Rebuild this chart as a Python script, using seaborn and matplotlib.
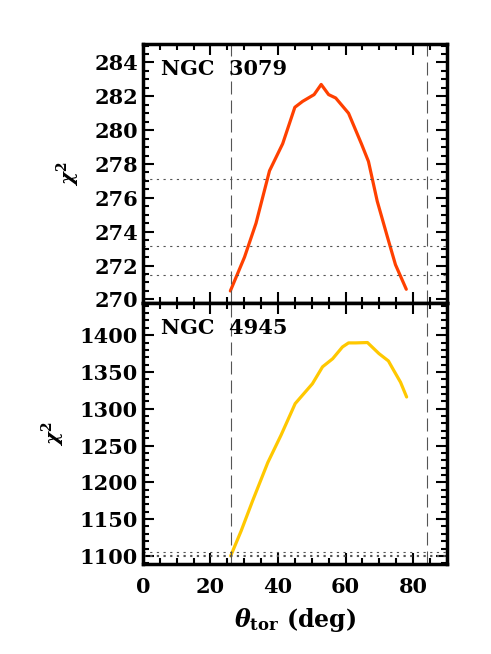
import numpy as np
import pandas as pd
import seaborn as sns
import matplotlib.pyplot as plt
from matplotlib.ticker import MultipleLocator

# NGC 3079 chi^2 curve
theta_3079 = [25.9, 30.1, 33.5, 37.5, 41.4, 45.0, 47.3, 50.7, 52.8, 55.0,
              57.1, 60.9, 64.7, 66.8, 69.4, 72.4, 74.8, 78.0]
chi2_3079 = [270.5, 272.5, 274.5, 277.6, 279.2, 281.35, 281.7, 282.1, 282.7, 282.1,
             281.9, 281.0, 279.2, 278.15, 275.8, 273.7, 272.05, 270.6]
levels_3079 = [271.45, 273.15, 277.1]

# NGC 4945 chi^2 curve
theta_4945 = [26.0, 29.1, 32.5, 37.0, 40.9, 45.1, 50.2, 53.2, 56.2, 59.1,
              60.9, 63.0, 66.5, 69.9, 72.7, 74.3, 76.3, 78.1]
chi2_4945 = [1100, 1134, 1175, 1227, 1264, 1307, 1334, 1357, 1368, 1384,
             1389.5, 1389.5, 1390, 1375, 1365, 1352, 1336, 1316]
levels_4945 = [1100.0, 1101.7, 1105.6]

theta_range = [26, 84]

sns.set_style('ticks')
plt.rcParams['font.family'] = ['DejaVu Serif']
plt.rcParams['font.weight'] = 'bold'
plt.rcParams['mathtext.fontset'] = 'dejavuserif'
plt.rcParams.update({'text.color': 'black', 'axes.labelcolor': 'black',
                     'xtick.color': 'black', 'ytick.color': 'black',
                     'axes.edgecolor': 'black'})

fig = plt.figure(figsize=(4.91, 6.54), dpi=100)
ax1 = fig.add_axes([0.291, 0.537, 0.619, 0.396])
ax2 = fig.add_axes([0.291, 0.1376, 0.619, 0.3994])

df1 = pd.DataFrame({'theta': theta_3079, 'chi2': chi2_3079})
df2 = pd.DataFrame({'theta': theta_4945, 'chi2': chi2_4945})

sns.lineplot(x='theta', y='chi2', data=df1, ax=ax1, color='#ff4000', lw=2.3)
sns.lineplot(x='theta', y='chi2', data=df2, ax=ax2, color='#ffc800', lw=2.3)

for ax, levels in [(ax1, levels_3079), (ax2, levels_4945)]:
    for t in theta_range:
        ax.axvline(t, color='#555555', lw=0.8, dashes=(11.7, 5.4))
    for lv in levels:
        ax.axhline(lv, color='#555555', lw=0.8, dashes=(2, 4))
    ax.set_xlim(0, 90)
    ax.xaxis.set_major_locator(MultipleLocator(20))
    ax.xaxis.set_minor_locator(MultipleLocator(5))
    ax.tick_params(which='both', direction='in', top=True, right=True,
                   labelsize=15, width=1.5)
    ax.tick_params(which='major', length=8)
    ax.tick_params(which='minor', length=4)
    ax.tick_params(axis='x', pad=9)
    for s in ax.spines.values():
        s.set_linewidth(2.5)
    ax.set_ylabel(r'$\chi^2$', fontsize=14, labelpad=9)
    ax.set_xlabel('')

ax1.set_ylim(269.8, 285.1)
ax1.yaxis.set_major_locator(MultipleLocator(2))
ax1.yaxis.set_minor_locator(MultipleLocator(0.5))
ax1.tick_params(labelbottom=False)
ax1.text(0.06, 0.94, 'NGC  3079', transform=ax1.transAxes, fontsize=15,
         va='top', ha='left')

ax2.set_ylim(1089, 1444)
ax2.yaxis.set_major_locator(MultipleLocator(50))
ax2.yaxis.set_minor_locator(MultipleLocator(10))
ax2.text(0.06, 0.94, 'NGC  4945', transform=ax2.transAxes, fontsize=15,
         va='top', ha='left')
ax2.set_xlabel(r'$\theta_{\mathbf{tor}}$ (deg)', fontsize=17, labelpad=7,
               fontweight='bold')

fig.savefig('out.png', dpi=100)
